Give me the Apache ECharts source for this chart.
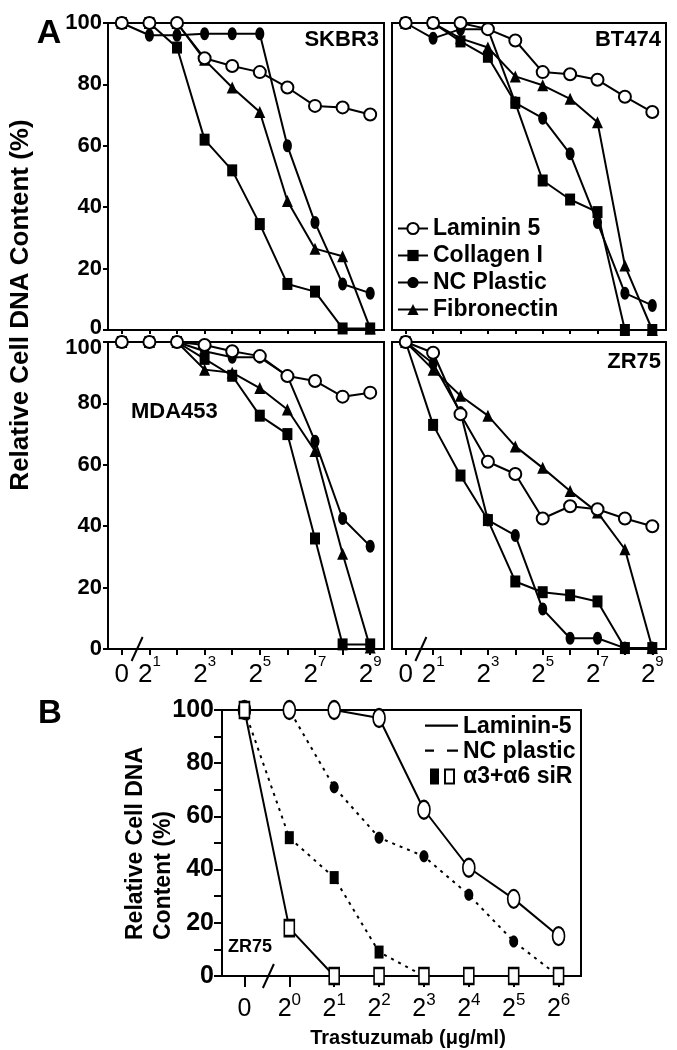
<!DOCTYPE html>
<html><head><meta charset="utf-8">
<script src="https://cdn.jsdelivr.net/npm/echarts@6/dist/echarts.min.js"></script>
<style>html,body{margin:0;padding:0;background:#fff}#c{width:677px;height:1050px}</style>
</head><body><div id="c"></div>
<script>
const FONT = 'Liberation Sans';

// ---------- categories / tick labels ----------
const xA = ['0','2^1','2^2','2^3','2^4','2^5','2^6','2^7','2^8','2^9'];
const xB = ['0','2^0','2^1','2^2','2^3','2^4','2^5','2^6'];
const panelNames = ['SKBR3','BT474','MDA453','ZR75'];
const seriesNamesA = ['Laminin 5','Collagen I','NC Plastic','Fibronectin'];
const seriesNamesB = ['Laminin-5','NC plastic','α3+α6 siR'];

// ---------- panel A values (%) ----------
const skbr3Laminin = [100,100,100,88.5,86,84,79,73,72.5,70.2];
const skbr3Collagen = [100,100,92,62,52,34.5,15,12.5,0.5,0.5];
const skbr3NC = [100,96,96,96.5,96.5,96.5,60,35,15,12];
const skbr3Fibro = [100,100,100,88,79,71,42,26.5,24,0.5];

const bt474Laminin = [100,100,100,98,94.3,84,83.3,81.5,76,71];
const bt474Collagen = [100,100,94,89,74,48.7,42.5,38.4,0,0];
const bt474NC = [100,95,98,98,74,69,57.4,35,12,8];
const bt474Fibro = [100,100,95,92,82.6,79.7,75.3,67.7,21,0];

const mda453Laminin = [100,100,100,99,97,95.4,88.9,87.3,82.2,83.5];
const mda453Collagen = [100,100,100,94.5,89,76,70,36,1.5,1.5];
const mda453NC = [100,100,100,97,95,95,89,67.7,42.5,33.5];
const mda453Fibro = [100,100,100,91,90,85,78,64.5,31,0.5];

const zr75Laminin = [100,96.5,76.5,61,57,42.5,46.5,45.5,42.5,40];
const zr75Collagen = [100,73,56.5,42,22,18.5,17.5,15.5,0.3,0.3];
const zr75NC = [100,93,77,42,37,13,3.5,3.5,0.3,0.3];
const zr75Fibro = [100,91,82.5,76,66,59,51.5,44.5,32.5,0.3];

// ---------- panel B values (%) ----------
const bLaminin = [100,100,100,97,62.5,40.7,29,15];
const bNCPlastic = [100,100,71,52,45,30.5,13,0];
const bSiNC = [100,52,37,9,0,null,null,null];
const bSiLaminin = [100,18,0,0,0,0,0,0];

// ---------- build ----------
const panelData = [
  [skbr3Laminin, skbr3Collagen, skbr3NC, skbr3Fibro],
  [bt474Laminin, bt474Collagen, bt474NC, bt474Fibro],
  [mda453Laminin, mda453Collagen, mda453NC, mda453Fibro],
  [zr75Laminin, zr75Collagen, zr75NC, zr75Fibro]
];

const ELLIPSE = 'path://M0,1C0.552,1 1,0.552 1,0C1,-0.552 0.552,-1 0,-1C-0.552,-1 -1,-0.552 -1,0C-1,0.552 -0.552,1 0,1Z';
const OPEN = {color:'#fff', borderColor:'#000', borderWidth:2};
const FILLED = {color:'#000', borderWidth:0};

const styleA = [
  {symbol:'circle', symbolSize:12, itemStyle:OPEN},
  {symbol:'rect', symbolSize:[10,12], itemStyle:FILLED},
  {symbol:ELLIPSE, symbolSize:[9,13], itemStyle:FILLED},
  {symbol:'triangle', symbolSize:[11,12], itemStyle:FILLED}
];

const gridsA = [
  {left:108, top:23, width:276, height:307},
  {left:392, top:23, width:274, height:307},
  {left:108, top:342, width:276, height:307},
  {left:392, top:342, width:274, height:307}
];
const gridB = {left:222, top:710, width:359, height:266};

const grids = gridsA.concat([gridB]).map(g => Object.assign({show:true, borderColor:'#000', borderWidth:2, backgroundColor:'transparent'}, g));

function supFormatter(v) {
  if (v === '0') return '{b|0}';
  const p = v.split('^');
  return '{b|' + p[0] + '}{s|' + p[1] + '}';
}

const xAxes = [];
const yAxes = [];
for (let i = 0; i < 4; i++) {
  xAxes.push({
    gridIndex:i, type:'category', data:xA, boundaryGap:true,
    axisLine:{show:true, lineStyle:{color:'#000', width:2}},
    axisTick:{show:true, alignWithLabel:true, interval:0, length: i < 2 ? 4 : 6, lineStyle:{color:'#000', width:2}},
    axisLabel:{
      show: i >= 2, interval:0, margin:5, color:'#000',
      formatter: (v, idx) => (idx !== 0 && idx % 2 === 0) ? '' : supFormatter(v),
      rich:{
        b:{fontSize:26, fontFamily:FONT, color:'#000', lineHeight:34, verticalAlign:'bottom'},
        s:{fontSize:15, fontFamily:FONT, color:'#000', lineHeight:15, verticalAlign:'top'}
      }
    },
    splitLine:{show:false}
  });
  const left = i % 2 === 0;
  yAxes.push({
    gridIndex:i, type:'value', min:0, max:100, interval:20,
    axisLine:{show:true, lineStyle:{color:'#000', width:2}},
    axisTick:{show:left, length:5, lineStyle:{color:'#000', width:2}},
    axisLabel:{
      show:left, margin:6, color:'#000', fontSize:22, fontWeight:'bold', fontFamily:FONT,
      formatter: i === 0 ? (v => v === 0 ? '{lo|0}' : String(v)) : (v => v === 100 ? '{hi|100}' : String(v)),
      rich:{
        lo:{fontSize:22, fontWeight:'bold', fontFamily:FONT, color:'#000', padding:[0,0,4,0]},
        hi:{fontSize:22, fontWeight:'bold', fontFamily:FONT, color:'#000', padding:[12,0,0,0]}
      }
    },
    splitLine:{show:false}
  });
}
xAxes.push({
  gridIndex:4, type:'category', data:xB, boundaryGap:true,
  axisLine:{show:true, lineStyle:{color:'#000', width:2}},
  axisTick:{show:true, alignWithLabel:true, interval:0, length:11, lineStyle:{color:'#000', width:2}},
  axisLabel:{
    interval:0, margin:16, color:'#000', formatter: supFormatter,
    rich:{
      b:{fontSize:25, fontFamily:FONT, color:'#000', lineHeight:30, verticalAlign:'bottom'},
      s:{fontSize:17, fontFamily:FONT, color:'#000', lineHeight:16, verticalAlign:'top'}
    }
  },
  splitLine:{show:false}
});
yAxes.push({
  gridIndex:4, type:'value', min:0, max:100, interval:10,
  axisLine:{show:true, lineStyle:{color:'#000', width:2}},
  axisTick:{show:true, length:8, lineStyle:{color:'#000', width:2}},
  axisLabel:{margin:8, color:'#000', fontSize:25, fontWeight:'bold', fontFamily:FONT,
    formatter: v => (v % 20 === 0 ? String(v) : '')},
  splitLine:{show:false}
});

const series = [];
const drawOrder = [1, 2, 3, 0]; // Laminin on top
for (let i = 0; i < 4; i++) {
  drawOrder.forEach(k => {
    series.push(Object.assign({
      type:'line', name:seriesNamesA[k], xAxisIndex:i, yAxisIndex:i,
      data:panelData[i][k], clip:false, showSymbol:true,
      lineStyle:{color:'#000', width:2}, color:'#000'
    }, styleA[k]));
  });
}
const dotted = {color:'#000', width:2, type:[3,5]};
series.push({type:'line', name:'NC plastic', xAxisIndex:4, yAxisIndex:4, data:bNCPlastic, clip:false,
  symbol:ELLIPSE, symbolSize:[9,12], itemStyle:FILLED, lineStyle:dotted, color:'#000'});
series.push({type:'line', name:'α3+α6 siR', xAxisIndex:4, yAxisIndex:4, data:bSiNC, clip:false, connectNulls:false,
  symbol:'rect', symbolSize:[9,13], itemStyle:FILLED, lineStyle:dotted, color:'#000'});
series.push({type:'line', name:'Laminin-5', xAxisIndex:4, yAxisIndex:4, data:bLaminin, clip:false,
  symbol:ELLIPSE, symbolSize:[12,18], itemStyle:OPEN, lineStyle:{color:'#000', width:2}, color:'#000'});
series.push({type:'line', name:'α3+α6 siR / Laminin-5', xAxisIndex:4, yAxisIndex:4, data:bSiLaminin, clip:false,
  symbol:'rect', symbolSize:[10,16], itemStyle:OPEN, lineStyle:{color:'#000', width:2}, color:'#000'});

const ICON_LINE = 'path://M0,0L0.01,0L0.01,0.01ZM0,6L33,6L33,8.2L0,8.2ZM33,16L32.99,16L32.99,15.99Z';
const ICON_DASH = 'path://M0,0L0.01,0L0.01,0.01ZM0,6L9,6L9,8.2L0,8.2ZM22,6L33,6L33,8.2L22,8.2ZM33,16L32.99,16L32.99,15.99Z';
const ICON_SQ = 'path://M0,0L0.01,0L0.01,0.01ZM5,0L14,0L14,16L5,16ZM19,0L30,0L30,16L19,16ZM21,2L21,14L28,14L28,2ZM33,16L32.99,16L32.99,15.99Z';

const legendText = {fontSize:23, fontWeight:'bold', fontFamily:FONT, color:'#000'};
const option = {
  animation:false,
  backgroundColor:'#fff',
  textStyle:{fontFamily:FONT},
  grid:grids,
  xAxis:xAxes,
  yAxis:yAxes,
  legend:[
    {data:seriesNamesA, orient:'vertical', left:397, top:217, itemWidth:30, itemHeight:14, itemGap:4,
     padding:0, selectedMode:false, textStyle:legendText},
    {data:[
       {name:seriesNamesB[0], icon:ICON_LINE, itemStyle:{color:'#000', borderWidth:0}},
       {name:seriesNamesB[1], icon:ICON_DASH, itemStyle:{color:'#000', borderWidth:0}},
       {name:seriesNamesB[2], icon:ICON_SQ, itemStyle:{color:'#000', borderWidth:0}}
     ],
     orient:'vertical', left:425, top:715, itemWidth:33, itemHeight:16, itemGap:2,
     padding:0, selectedMode:false, textStyle:legendText}
  ],
  series:series
};

const chart = echarts.init(document.getElementById('c'), null, {renderer:'canvas'});
chart.setOption(option);

function txt(text, x, y, size, align, vAlign, rot, weight) {
  return {type:'text', x:x, y:y, rotation:rot || 0, z:100,
    style:{text:text, fill:'#000', font:(weight || 'bold') + ' ' + size + 'px "' + FONT + '"',
      align:align, verticalAlign:vAlign}};
}
const g = [
  txt('A', 49, 34, 34, 'center', 'middle'),
  txt('B', 50, 714, 33, 'center', 'middle'),
  txt('Relative Cell DNA Content (%)', 21, 305, 26, 'center', 'middle', Math.PI / 2),
  txt(panelNames[0], 379, 40, 22, 'right', 'middle'),
  txt(panelNames[1], 661, 40, 22, 'right', 'middle'),
  txt(panelNames[2], 131, 412, 22, 'left', 'middle'),
  txt(panelNames[3], 661, 362, 22, 'right', 'middle'),
  txt('ZR75', 228, 947, 18, 'left', 'middle'),
  txt('Relative Cell DNA', 136, 940, 23, 'left', 'middle', Math.PI / 2),
  txt('Content (%)', 164, 940, 23, 'left', 'middle', Math.PI / 2),
  txt('Trastuzumab (μg/ml)', 408, 1038, 20, 'center', 'middle')
];
// axis break marks between the "0" and the first power-of-two category
[[2, xA], [3, xA], [4, xB]].forEach(([ai, cats]) => {
  const x0 = chart.convertToPixel({xAxisIndex:ai}, cats[0]);
  const x1 = chart.convertToPixel({xAxisIndex:ai}, cats[1]);
  const y0 = chart.convertToPixel({yAxisIndex:ai}, 0);
  const m = (x0 + x1) / 2 + 1;
  g.push({type:'line', z:100, shape:{x1:m + 6, y1:y0 - 12, x2:m - 5, y2:y0 + 12},
    style:{stroke:'#000', lineWidth:2}});
});
chart.setOption({graphic:g});
</script></body></html>
